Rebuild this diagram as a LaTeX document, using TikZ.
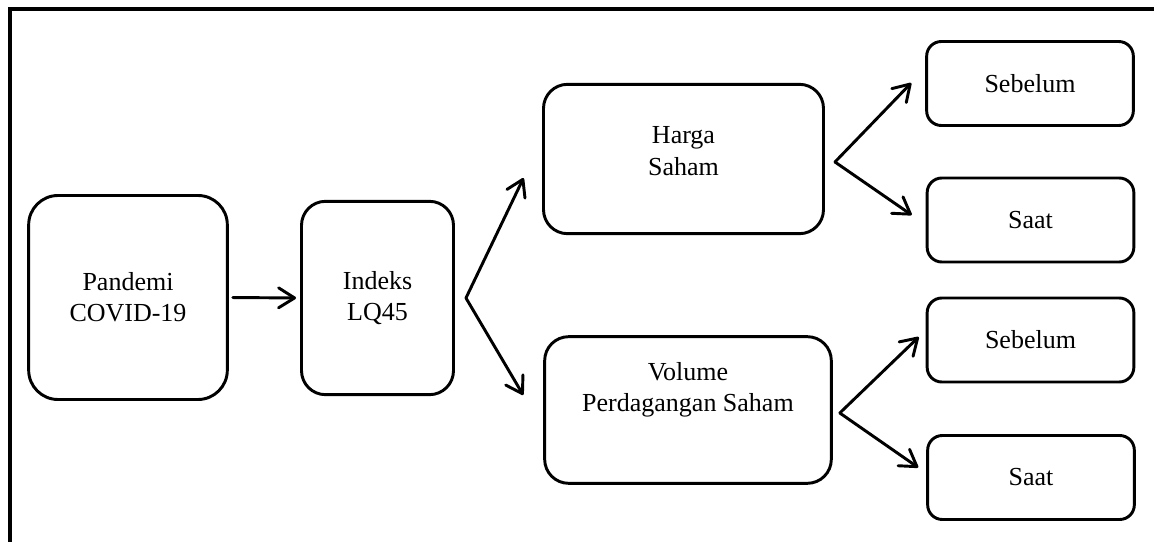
\documentclass[tikz,border=0pt]{standalone}
\usepackage{fontspec}
\setmainfont{Liberation Serif}
\usetikzlibrary{arrows.meta,calc}

\begin{document}
\begin{tikzpicture}[x=0.75pt, y=-0.75pt,
    boxtext/.style={align=center, font=\fontsize{19.5}{23.5}\selectfont},
    box/.style={draw, line width=2.2pt, inner sep=0pt, boxtext},
    bigbox/.style={box, rounded corners=22pt},
    midbox/.style={box, rounded corners=18pt},
    smallbox/.style={box, rounded corners=11pt, minimum width=155pt, minimum height=63pt},
    link/.style={line width=2.2pt, line cap=round, -{Straight Barb[length=12pt, width=15pt, round]}}
  ]
  \useasboundingbox (0,0) rectangle (1154,542);
  % frame
  \draw[line width=3pt] (10,542) -- (10,9.5) -- (1154,9.5);

  % main chain
  \node[bigbox, minimum width=149pt, minimum height=153pt] (pandemi) at (128,297.5) {Pandemi\\COVID-19};
  \node[midbox, minimum width=114pt, minimum height=145pt] (lq) at (377.5,298) {Indeks\\LQ45};
  \node[midbox, minimum width=210pt, minimum height=112pt,
    label={[boxtext, yshift=6pt]center:Harga\\Saham}] (harga) at (683.5,159) {};
  \node[midbox, minimum width=215pt, minimum height=110pt,
    label={[boxtext, yshift=15pt]center:Volume\\Perdagangan Saham}] (volume) at (688,410) {};

  % periods
  \node[smallbox] (hsebelum) at (1030,83.5) {Sebelum};
  \node[smallbox] (hsaat) at (1030.5,220) {Saat};
  \node[smallbox] (vsebelum) at (1030.5,340) {Sebelum};
  \node[smallbox] (vsaat) at (1031,477.5) {Saat};

  % forks and arrow ends
  \coordinate (forklq) at ($(lq.east)+(11,0)$);
  \coordinate (forkharga) at ($(harga.east)+(10,3)$);
  \coordinate (forkvolume) at ($(volume.east)+(7,3)$);
  \coordinate (toharga) at ($(harga.west)+(-18.5,19)$);
  \coordinate (tovolume) at ($(volume.west)+(-20,-15)$);
  \coordinate (tohsebelum) at ($(hsebelum.west)+(-14,-0.5)$);
  \coordinate (tohsaat) at ($(hsaat.west)+(-14,-5)$);
  \coordinate (tovsebelum) at ($(vsebelum.west)+(-7,-3)$);
  \coordinate (tovsaat) at ($(vsaat.west)+(-8,-10)$);

  % arrows
  \draw[link, shorten <=3pt, shorten >=3pt] (pandemi.east) -- (lq.west);
  \draw[link] (forklq) -- (toharga);
  \draw[link] (forklq) -- (tovolume);
  \draw[link] (forkharga) -- (tohsebelum);
  \draw[link] (forkharga) -- (tohsaat);
  \draw[link] (forkvolume) -- (tovsebelum);
  \draw[link] (forkvolume) -- (tovsaat);
\end{tikzpicture}
\end{document}
